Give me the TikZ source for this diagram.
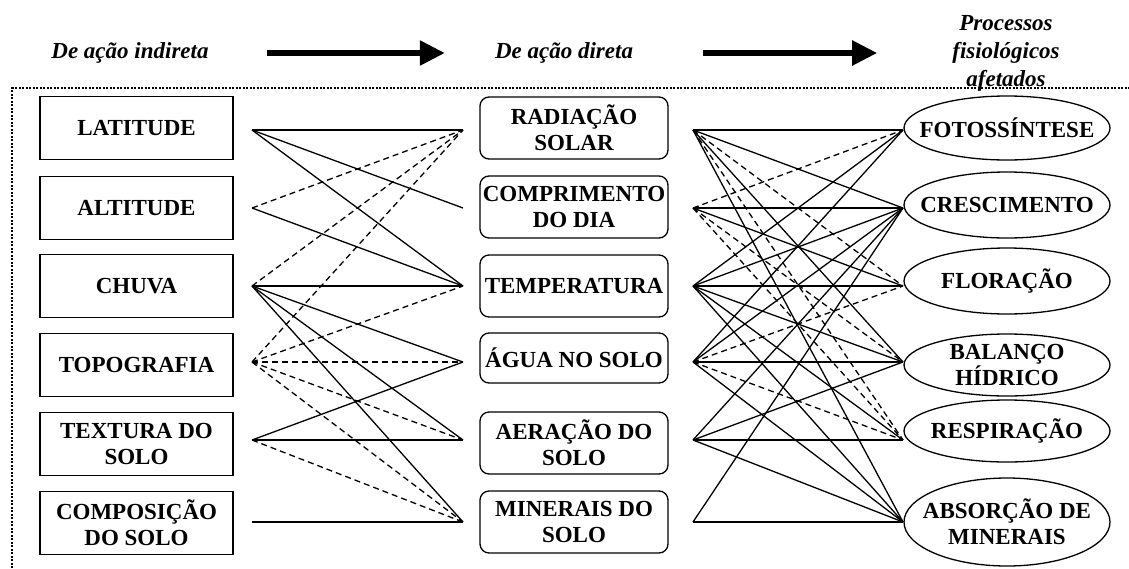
\documentclass[tikz,border=0pt]{standalone}
\usepackage{fontspec}
\setmainfont{Liberation Serif}
\usetikzlibrary{shapes.geometric,arrows.meta}
\begin{document}
\begin{tikzpicture}[x=1pt,y=-1pt,
  every node/.style={inner sep=0pt, align=center},
  lbl/.style={font=\fontsize{23}{26}\selectfont\bfseries},
  lbox/.style={lbl, draw, line width=1.3pt, minimum width=193pt, minimum height=63pt},
  mbox/.style={lbl, draw, line width=1.3pt, rounded corners=9pt, minimum width=188pt, minimum height=62pt},
  rell/.style={draw, ellipse, line width=1.3pt, minimum width=206pt, minimum height=64pt},
  hdr/.style={font=\fontsize{23}{28}\selectfont\bfseries\itshape},
  harrow/.style={line width=5.5pt, -{Triangle[length=25pt,width=24pt]}},
  sl/.style={line width=1.3pt, black},
  dl/.style={sl, dash pattern=on 6pt off 4pt},
  frame/.style={line width=1.4pt, dash pattern=on 2pt off 1.5pt},
]
\useasboundingbox (0,0) rectangle (1129,568);

% header
\node[hdr] (h1) at (130,53) {De ação indireta};
\node[hdr] (h2) at (564,53) {De ação direta};
\node[hdr] (h3) at (1006,53) {Processos\\fisiológicos\\afetados};
\draw[harrow] ([xshift=58pt]h1.east) -- ([xshift=-50pt]h2.west);
\draw[harrow] ([xshift=70pt]h2.east) -- ([xshift=-75pt]h3.west);

% frame
\draw[frame] (12,568) -- (12,88) -- (1129,88);

% left column
\node[lbox] (L1) at (136.5,128) {LATITUDE};
\node[lbox] (L2) at (136.5,208) {ALTITUDE};
\node[lbox] (L3) at (136.5,286) {CHUVA};
\node[lbox] (L4) at (136.5,365) {TOPOGRAFIA};
\node[lbox] (L5) at (136.5,444) {TEXTURA DO\\SOLO};
\node[lbox] (L6) at (136.5,523) {COMPOSIÇÃO\\DO SOLO};

% middle column
\node[mbox] (M1) at (574,128) {RADIAÇÃO\\SOLAR};
\node[mbox] (M2) at (574,207) {COMPRIMENTO\\DO DIA};
\node[mbox] (M3) at (574,286) {TEMPERATURA};
\node[mbox, minimum height=50pt] (M4) at (574,358) {ÁGUA NO SOLO};
\node[mbox] (M5) at (574,443) {AERAÇÃO DO\\SOLO};
\node[mbox] (M6) at (574,522) {MINERAIS DO\\SOLO};

% right column
\node[rell] (R1) at (1007,128) {};
\node[lbl] (R1t) at (R1) {FOTOSSÍNTESE};
\node[rell, minimum height=66pt] (R2) at (1007,205) {};
\node[lbl] (R2t) at (R2) {CRESCIMENTO};
\node[rell, minimum height=66pt] (R3) at (1007,281) {};
\node[lbl] (R3t) at (R3) {FLORAÇÃO};
\node[rell, minimum height=62pt] (R4) at (1007,365) {};
\node[lbl] (R4t) at (R4) {BALANÇO\\HÍDRICO};
\node[rell, minimum height=62pt] (R5) at (1007,431) {};
\node[lbl] (R5t) at (R5) {RESPIRAÇÃO};
\node[rell, minimum height=88pt] (R6) at (1007,522) {};
\node[lbl] (R6t) at (R6) {ABSORÇÃO DE\\MINERAIS};

% connector ends
\foreach \i/\y in {1/130,2/208,3/286,4/362,5/440,6/522} {
  \coordinate (a\i) at (252,\y);
  \coordinate (b\i) at (463,\y);
  \coordinate (c\i) at (693,\y);
  \coordinate (d\i) at (903,\y);
}

% indirect -> direct
\foreach \s/\t in {1/1,1/2,1/3,2/3,3/3,3/4,3/5,3/6,5/4,5/5,6/6}
  \draw[sl] (a\s) -- (b\t);
\foreach \s/\t in {2/1,3/1,4/1,4/3,4/4,4/5,4/6,5/6}
  \draw[dl] (a\s) -- (b\t);

% direct -> processes
\foreach \s/\t in {1/1,1/2,1/4,1/6,2/2,2/3,3/1,3/2,3/3,3/4,3/5,3/6,4/1,4/2,4/4,4/6,5/2,5/4,5/5,5/6,6/2,6/6}
  \draw[sl] (c\s) -- (d\t);
\foreach \s/\t in {1/3,1/5,2/1,2/4,2/5,4/3,4/5}
  \draw[dl] (c\s) -- (d\t);
\end{tikzpicture}
\end{document}
